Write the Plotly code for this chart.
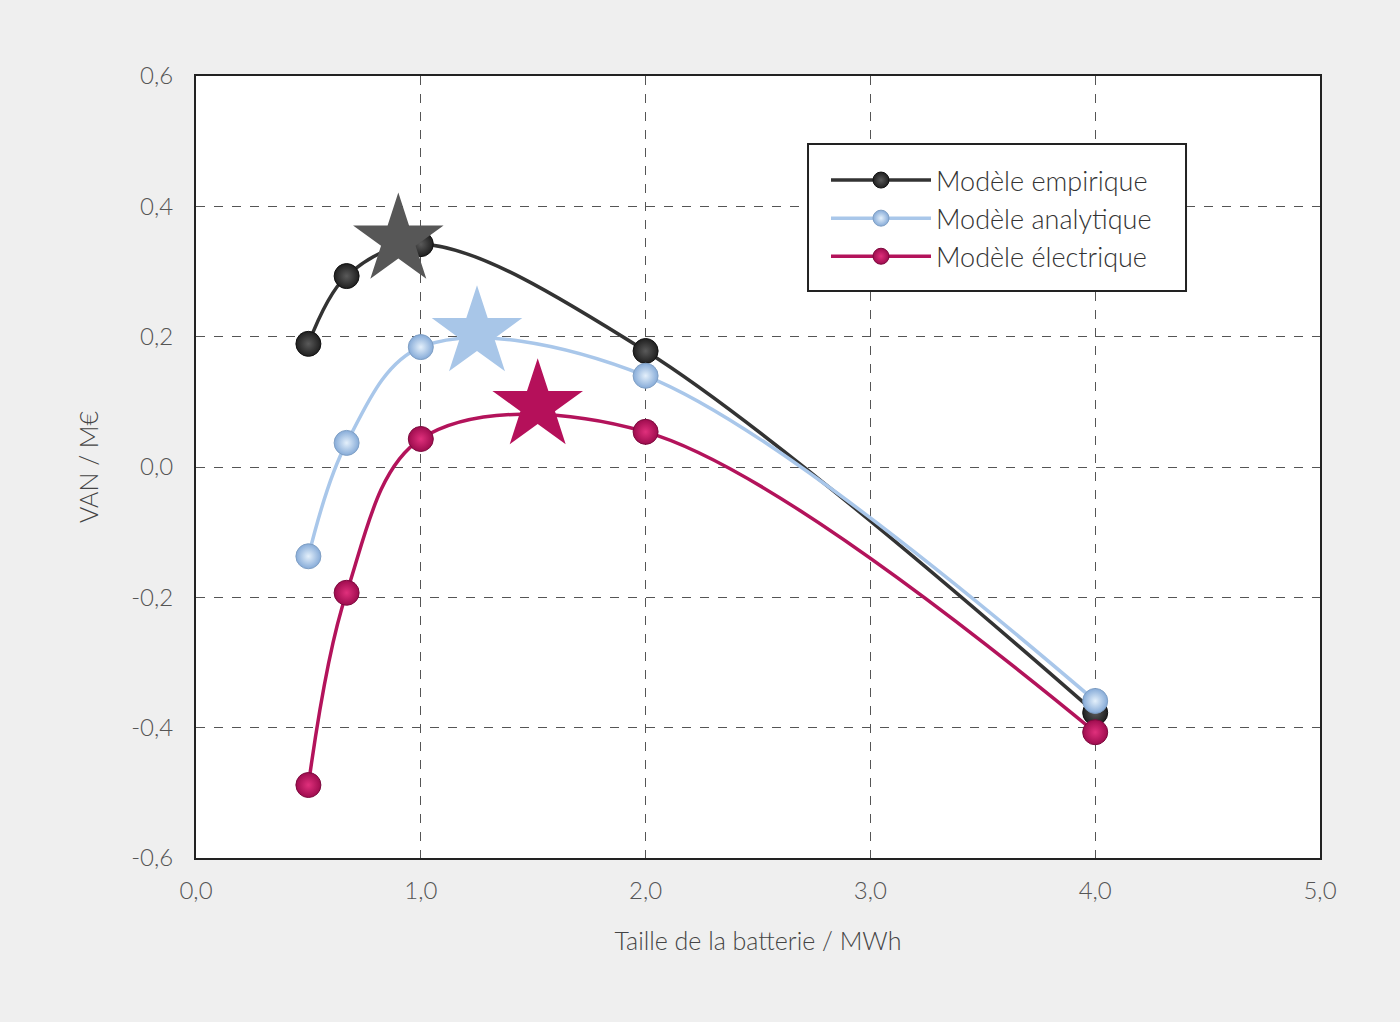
import plotly.graph_objects as go

x_sizes = [0.5, 0.67, 1.0, 2.0, 4.0]
y_empirique = [0.189, 0.293, 0.342, 0.178, -0.377]
y_analytique = [-0.137, 0.037, 0.184, 0.140, -0.359]
y_electrique = [-0.488, -0.193, 0.043, 0.054, -0.407]

star_x = [0.90, 1.25, 1.52]
star_y = [0.348, 0.206, 0.094]

x_tick_vals = [0, 1, 2, 3, 4, 5]
x_tick_text = ["0,0", "1,0", "2,0", "3,0", "4,0", "5,0"]
y_tick_vals = [-0.6, -0.4, -0.2, 0.0, 0.2, 0.4, 0.6]
y_tick_text = ["-0,6", "-0,4", "-0,2", "0,0", "0,2", "0,4", "0,6"]

names = ["Modèle empirique", "Modèle analytique", "Modèle électrique"]
line_colors = ["#333333", "#a9c7ea", "#b3135b"]
marker_colors = ["#1f1f1f", "#86abd8", "#9e0c4e"]
marker_centers = ["#5a5a5a", "#e4f0fb", "#e0307c"]
marker_edges = ["#111111", "#7f9fc4", "#7d0a3e"]
star_colors = ["#575757", "#a8c6e8", "#b5105a"]

series = [y_empirique, y_analytique, y_electrique]

fig = go.Figure()
for i, ys in enumerate(series):
    fig.add_trace(go.Scatter(
        x=x_sizes, y=ys, mode="lines+markers", name=names[i],
        line=dict(color=line_colors[i], width=3.5, shape="spline", smoothing=1.0),
        marker=dict(size=25, color=marker_colors[i],
                    gradient=dict(type="radial", color=marker_centers[i]),
                    line=dict(color=marker_edges[i], width=1)),
    ))
for i in range(3):
    fig.add_trace(go.Scatter(
        x=[star_x[i]], y=[star_y[i]], mode="markers", showlegend=False,
        marker=dict(symbol="star", size=68, color=star_colors[i],
                    line=dict(width=0)),
    ))

font_family = "Lato, 'Open Sans', sans-serif"
fig.update_layout(
    width=1400, height=1022,
    paper_bgcolor="#efefef", plot_bgcolor="white",
    margin=dict(l=196, r=80, t=76, b=164),
    font=dict(family=font_family, size=24, color="#444444", weight=300),
    legend=dict(
        x=0.5605, y=0.8977, xanchor="left", yanchor="top",
        bgcolor="rgba(0,0,0,0)", borderwidth=0,
        font=dict(size=27, color="#333333", family=font_family, weight=300),
        itemwidth=100, tracegroupgap=0,
    ),
    showlegend=True,
    shapes=[dict(type="rect", xref="paper", yref="paper",
                 x0=0.5445, x1=0.8808, y0=0.7251, y1=0.9130,
                 fillcolor="white", line=dict(color="#222222", width=2),
                 layer="above")],
)
fig.update_xaxes(
    range=[0, 5], tickvals=x_tick_vals, ticktext=x_tick_text,
    showgrid=True, gridcolor="#555555", griddash="dash", gridwidth=1.3,
    showline=True, linecolor="#222222", linewidth=2, mirror=True,
    zeroline=False, ticks="", ticklen=0, ticklabelstandoff=10,
    tickfont=dict(size=24, color="#555555"),
    title=dict(text="Taille de la batterie / MWh", font=dict(size=25, color="#444444"), standoff=30),
)
fig.update_yaxes(
    range=[-0.6, 0.6], tickvals=y_tick_vals, ticktext=y_tick_text,
    showgrid=True, gridcolor="#555555", griddash="dash", gridwidth=1.3,
    showline=True, linecolor="#222222", linewidth=2, mirror=True,
    zeroline=False, ticks="", ticklen=0, ticklabelstandoff=16,
    tickfont=dict(size=24, color="#555555"),
    title=dict(text="VAN / M€", font=dict(size=25, color="#444444"), standoff=25),
)
fig.write_html("out.html", config={"displayModeBar": False},
               post_script="document.body.style.margin='0';document.body.style.background='#efefef';")
